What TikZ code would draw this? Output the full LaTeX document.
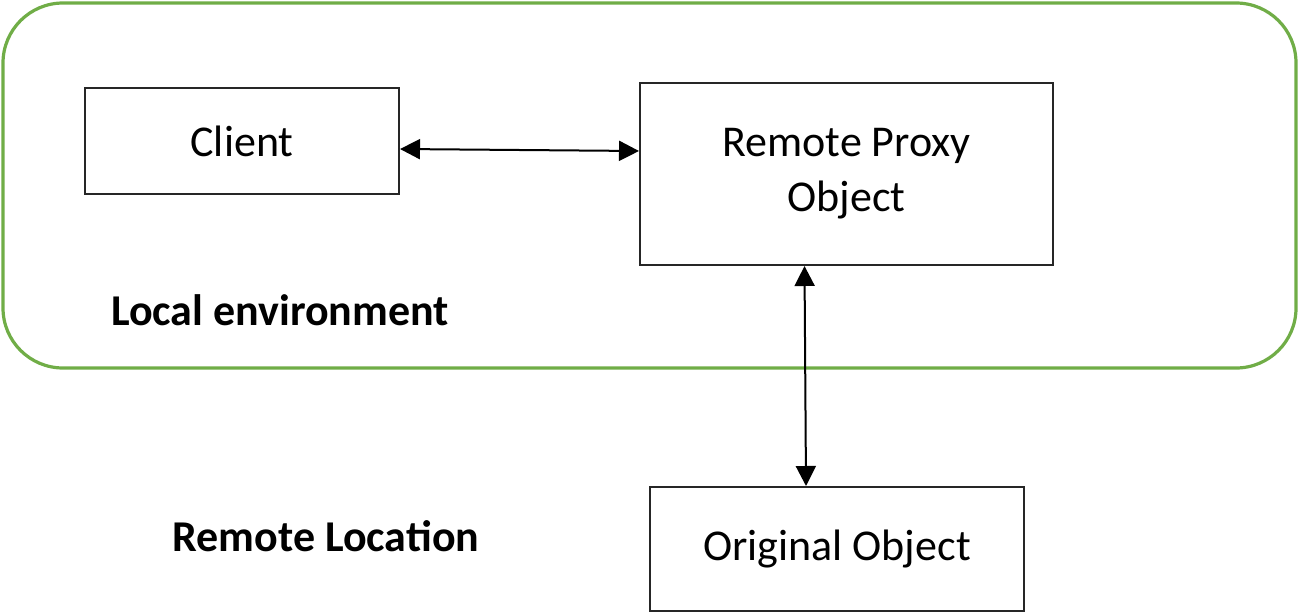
\documentclass[tikz,border=0pt]{standalone}
\usepackage{fontspec}
\setmainfont{Carlito}
\usetikzlibrary{arrows.meta}
\definecolor{envgreen}{RGB}{112,173,71}
\begin{document}
\begin{tikzpicture}[x=0.5pt,y=-0.5pt,
  box/.style={draw=black!85,line width=1pt,inner sep=0pt,align=center,
    font=\fontsize{22}{27.5}\selectfont},
  lbl/.style={inner sep=0pt,font=\fontsize{22}{26}\selectfont\bfseries},
  conn/.style={line width=1pt,{Triangle[length=10pt,width=10pt]}-{Triangle[length=10pt,width=10pt]}}]
\useasboundingbox (0,0) rectangle (1299,615);
\draw[envgreen,line width=1.6pt,rounded corners=30pt] (3,3) rectangle (1296,368);
\node[box,minimum width=157pt,minimum height=53pt] (client) at (242,141) {Client};
\node[box,minimum width=206.5pt,minimum height=91pt] (proxy) at (846.5,174) {Remote Proxy\\Object};
\node[box,minimum width=187pt,minimum height=62pt] (orig) at (837,549) {Original Object};
\node[lbl] (local) at (280,310) {Local environment};
\node[lbl] (remote) at (326,536) {Remote Location};
\draw[conn] ([yshift=-4pt]client.east) -- ([yshift=11.5pt]proxy.west);
\draw[conn] ([xshift=-21pt]proxy.south) -- ([xshift=-15.5pt]orig.north);
\end{tikzpicture}
\end{document}
